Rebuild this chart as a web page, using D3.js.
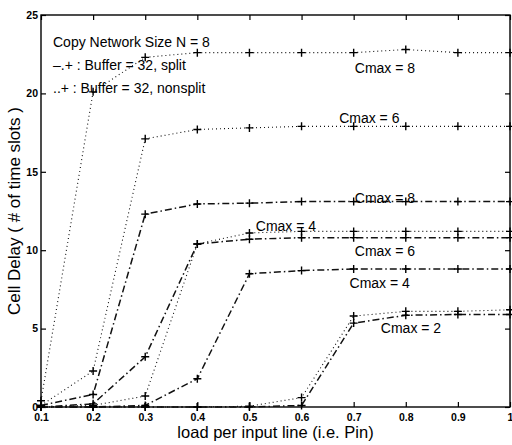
<!DOCTYPE html>
<html>
<head>
<meta charset="utf-8">
<script src="https://cdn.jsdelivr.net/npm/d3@7"></script>
<style>
body{margin:0;background:#fff;}
text{font-family:"Liberation Sans",Arial,Helvetica,sans-serif;fill:#000;}
</style>
</head>
<body>
<div id="chart"></div>
<script>
// load values (x axis)
var loads = [0.1, 0.2, 0.3, 0.4, 0.5, 0.6, 0.7, 0.8, 0.9, 1.0];
// nonsplit (dotted) series
var nonsplit8 = [0.4, 20.1, 22.3, 22.6, 22.6, 22.6, 22.6, 22.8, 22.6, 22.6];
var nonsplit6 = [0.1, 2.3, 17.1, 17.7, 17.8, 17.9, 17.9, 17.9, 17.9, 17.9];
var nonsplit4 = [0.0, 0.1, 0.7, 10.4, 11.1, 11.2, 11.2, 11.2, 11.2, 11.2];
var nonsplit2 = [0.0, 0.0, 0.0, 0.0, 0.05, 0.6, 5.8, 6.1, 6.1, 6.2];
// split (dash-dot) series
var split8 = [0.1, 0.8, 12.3, 12.95, 13.0, 13.1, 13.1, 13.1, 13.1, 13.1];
var split6 = [0.0, 0.2, 3.2, 10.4, 10.7, 10.8, 10.8, 10.8, 10.8, 10.8];
var split4 = [0.0, 0.0, 0.1, 1.8, 8.5, 8.7, 8.8, 8.8, 8.8, 8.8];
var split2 = [0.0, 0.0, 0.0, 0.0, 0.0, 0.1, 5.35, 5.85, 5.9, 5.9];
var xTicks = [0.1, 0.2, 0.3, 0.4, 0.5, 0.6, 0.7, 0.8, 0.9, 1.0];
var yTicks = [0, 5, 10, 15, 20, 25];
// curve labels: text, x (load), y (delay)
var labels = [
    ["Cmax = 8", 0.76, 21.3],
    ["Cmax = 6", 0.73, 18.1],
    ["Cmax = 8", 0.76, 13.0],
    ["Cmax = 4", 0.57, 11.2],
    ["Cmax = 6", 0.76, 9.6],
    ["Cmax = 4", 0.75, 7.6],
    ["Cmax = 2", 0.81, 4.7]
];
var legendLines = ["Copy Network Size N = 8", "\u2013.+ : Buffer = 32, split", "..+ : Buffer = 32, nonsplit"];

var W = 512, H = 445,
    margin = {left: 41, top: 15, right: 2, bottom: 38};

var svg = d3.select("#chart").append("svg")
    .attr("width", W)
    .attr("height", H);

var x = d3.scaleLinear().domain([0.1, 1]).range([margin.left, W - margin.right]);
var y = d3.scaleLinear().domain([0, 25]).range([H - margin.bottom, margin.top]);

//框
svg.append("rect")
    .attr("x", x(0.1)).attr("y", y(25))
    .attr("width", x(1) - x(0.1)).attr("height", y(0) - y(25))
    .attr("fill", "none").attr("stroke", "#000").attr("stroke-width", 1.4);

// axes with inward ticks
var gx = svg.append("g").attr("transform", "translate(0," + y(0) + ")")
    .call(d3.axisBottom(x).tickValues(xTicks).tickSize(-5).tickPadding(7)
        .tickFormat(function (d) { return d === 1 ? "1" : d3.format(".1f")(d); }));
var gxt = svg.append("g").attr("transform", "translate(0," + y(25) + ")")
    .call(d3.axisTop(x).tickValues(xTicks).tickSize(-5).tickFormat(""));
var gy = svg.append("g").attr("transform", "translate(" + x(0.1) + ",0)")
    .call(d3.axisLeft(y).tickValues(yTicks).tickSize(-5).tickPadding(3));
var gyr = svg.append("g").attr("transform", "translate(" + x(1) + ",0)")
    .call(d3.axisRight(y).tickValues(yTicks).tickSize(-5).tickFormat(""));
[gx, gxt, gy, gyr].forEach(function (g) {
    g.select(".domain").remove();
    g.selectAll("line").attr("stroke", "#000").attr("stroke-width", 1.2);
    g.selectAll("text").style("font-size", "10.5px").style("font-weight", "bold")
        .style("font-family", "'Liberation Sans',Arial,sans-serif");
});

var line = d3.line()
    .x(function (d, i) { return x(loads[i]); })
    .y(function (d) { return y(d); });

function drawSeries(vals, dash, width) {
    svg.append("path")
        .datum(vals)
        .attr("d", line)
        .attr("fill", "none")
        .attr("stroke", "#111")
        .attr("stroke-width", width)
        .attr("stroke-dasharray", dash);
    svg.append("g").selectAll("path")
        .data(vals)
        .enter().append("path")
        .attr("d", function (d, i) {
            var cx = x(loads[i]), cy = y(d);
            return "M" + (cx - 4) + "," + cy + "H" + (cx + 4) + "M" + cx + "," + (cy - 4) + "V" + (cy + 4);
        })
        .attr("stroke", "#000")
        .attr("stroke-width", 1.4);
}

[nonsplit8, nonsplit6, nonsplit4, nonsplit2].forEach(function (s) {
    drawSeries(s, "1,3", 1.1);
});
[split8, split6, split4, split2].forEach(function (s) {
    drawSeries(s, "7,3,1.5,3", 1.5);
});

svg.append("g").selectAll("text")
    .data(labels)
    .enter().append("text")
    .attr("x", function (d) { return x(d[1]); })
    .attr("y", function (d) { return y(d[2]); })
    .attr("text-anchor", "middle")
    .style("font-size", "14px")
    .text(function (d) { return d[0]; });

svg.append("g").selectAll("text")
    .data(legendLines)
    .enter().append("text")
    .attr("x", 53)
    .attr("y", function (d, i) { return 47 + i * 23; })
    .style("font-size", "14px")
    .text(function (d) { return d; });

svg.append("text")
    .attr("x", (x(0.1) + x(1)) / 2)
    .attr("y", 438)
    .attr("text-anchor", "middle")
    .style("font-size", "16.5px")
    .text("load per input line (i.e. Pin)");

svg.append("text")
    .attr("transform", "translate(20," + ((y(0) + y(25)) / 2) + ") rotate(-90)")
    .attr("text-anchor", "middle")
    .style("font-size", "17px")
    .text("Cell Delay ( # of time slots )");
</script>
</body>
</html>
